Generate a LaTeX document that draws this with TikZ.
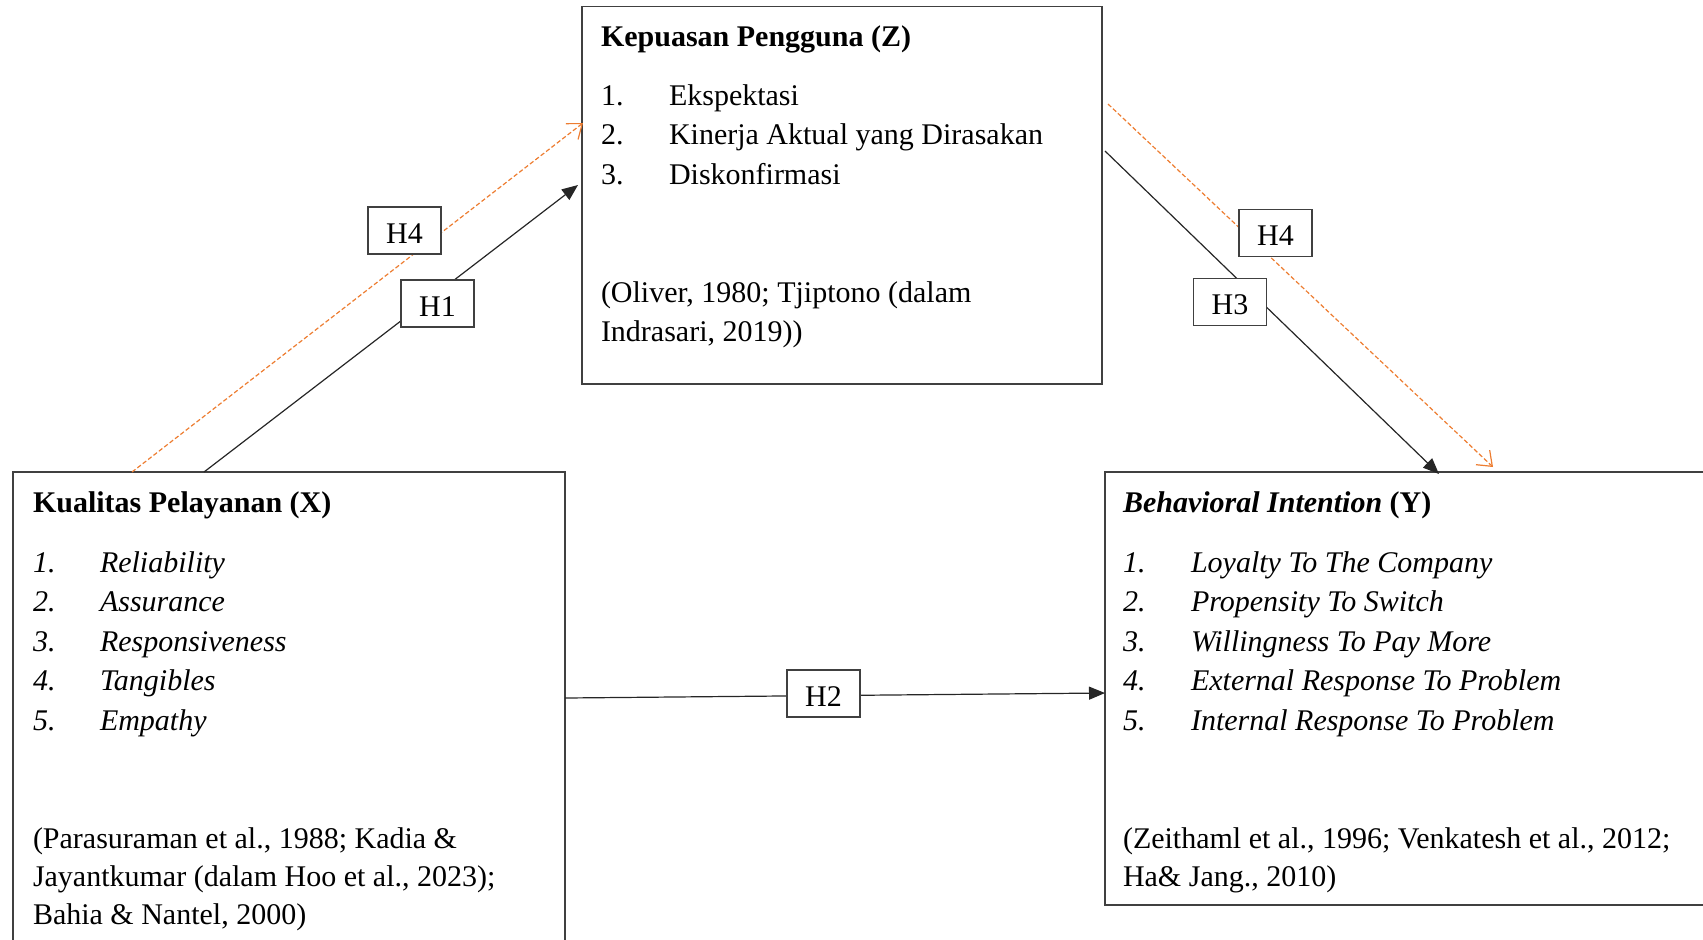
\documentclass[tikz,border=0pt]{standalone}
\usepackage{fontspec}
\setmainfont{Liberation Serif}
\usetikzlibrary{arrows.meta}
\definecolor{orng}{RGB}{237,125,49}
\definecolor{boxline}{RGB}{64,64,64}
\begin{document}
\begin{tikzpicture}[x=0.5pt,y=-0.5pt,
  box/.style={draw=boxline, line width=0.7pt, inner sep=0pt, outer sep=0pt, anchor=north west},
  txt/.style={anchor=base west, inner sep=0pt, outer sep=0pt, font=\fontsize{15}{18}\selectfont},
  hbox/.style={draw=boxline, fill=white, line width=0.7pt, minimum width=36.5pt, minimum height=23.5pt, inner sep=0pt, text height=12.7pt, text depth=0pt, font=\fontsize{15}{18}\selectfont},
  solidarrow/.style={black!85, line width=0.6pt, -{Triangle[length=8pt,width=6.5pt]}},
  orangearrow/.style={orng, line width=0.6pt, dash pattern=on 2.2pt off 1.2pt, -{Straight Barb[length=6.5pt,width=10pt]}}
]
\useasboundingbox (0,0) rectangle (1703,939);

% boxes
\node[box, minimum width=260pt, minimum height=188.75pt] (Z) at (582,6.5) {};
\node[box, minimum width=276pt, minimum height=236.5pt] (X) at (13,472) {};
\node[box, minimum width=303.5pt, minimum height=216.5pt] (Y) at (1105,472) {};

% Z text
\node[txt] (zt) at (601,46.5) {\textbf{Kepuasan Pengguna (Z)}};
\node[txt] (zn1) at (601,105) {1.};
\node[txt] (zi1) at (669,105) {Ekspektasi};
\node[txt] (zn2) at (601,144.6) {2.};
\node[txt] (zi2) at (669,144.6) {Kinerja Aktual yang Dirasakan};
\node[txt] (zn3) at (601,184.2) {3.};
\node[txt] (zi3) at (669,184.2) {Diskonfirmasi};
\node[txt] (zc1) at (601,302.5) {(Oliver, 1980; Tjiptono (dalam};
\node[txt] (zc2) at (601,341.5) {Indrasari, 2019))};

% X text
\node[txt] (xt) at (33,512.5) {\textbf{Kualitas Pelayanan (X)}};
\node[txt] (xn1) at (33,572) {\textit{1.}};
\node[txt] (xi1) at (100,572) {\textit{Reliability}};
\node[txt] (xn2) at (33,611.6) {\textit{2.}};
\node[txt] (xi2) at (100,611.6) {\textit{Assurance}};
\node[txt] (xn3) at (33,651.2) {\textit{3.}};
\node[txt] (xi3) at (100,651.2) {\textit{Responsiveness}};
\node[txt] (xn4) at (33,690.8) {\textit{4.}};
\node[txt] (xi4) at (100,690.8) {\textit{Tangibles}};
\node[txt] (xn5) at (33,730.4) {\textit{5.}};
\node[txt] (xi5) at (100,730.4) {\textit{Empathy}};
\node[txt] (xc1) at (33,848) {(Parasuraman et al., 1988; Kadia \&};
\node[txt] (xc2) at (33,886.5) {Jayantkumar (dalam Hoo et al., 2023);};
\node[txt] (xc3) at (33,924.5) {Bahia \& Nantel, 2000)};

% Y text
\node[txt] (yt) at (1123,512.5) {\textbf{\textit{Behavioral Intention} (Y)}};
\node[txt] (yn1) at (1123,572) {\textit{1.}};
\node[txt] (yi1) at (1191,572) {\textit{Loyalty To The Company}};
\node[txt] (yn2) at (1123,611.6) {\textit{2.}};
\node[txt] (yi2) at (1191,611.6) {\textit{Propensity To Switch}};
\node[txt] (yn3) at (1123,651.2) {\textit{3.}};
\node[txt] (yi3) at (1191,651.2) {\textit{Willingness To Pay More}};
\node[txt] (yn4) at (1123,690.8) {\textit{4.}};
\node[txt] (yi4) at (1191,690.8) {\textit{External Response To Problem}};
\node[txt] (yn5) at (1123,730.4) {\textit{5.}};
\node[txt] (yi5) at (1191,730.4) {\textit{Internal Response To Problem}};
\node[txt] (yc1) at (1123,848) {(Zeithaml et al., 1996; Venkatesh et al., 2012;};
\node[txt] (yc2) at (1123,886.5) {Ha\& Jang., 2010)};

% connector end points
\coordinate (xo) at (132,472);
\coordinate (zo) at (583,123);
\coordinate (xs) at (204,472);
\coordinate (zs) at (578,185);
\coordinate (zs3) at (1105,151);
\coordinate (ys3) at (1439,474);
\coordinate (zo4) at (1108,104);
\coordinate (yo4) at (1493,467);
\coordinate (xh2) at (565,698);
\coordinate (yh2) at (1105,693);

\draw[orangearrow] (xo) -- (zo);
\draw[solidarrow] (xs) -- (zs);
\draw[solidarrow] (zs3) -- (ys3);
\draw[orangearrow] (zo4) -- (yo4);
\draw[solidarrow] (xh2) -- (yh2);

% hypothesis labels
\node[hbox] (h4a) at (404.5,230.5) {H4};
\node[hbox] (h1) at (437.5,303.5) {H1};
\node[hbox] (h4b) at (1275.5,233) {H4};
\node[hbox] (h3) at (1230,302) {H3};
\node[hbox] (h2) at (823.5,693.5) {H2};
\end{tikzpicture}
\end{document}
